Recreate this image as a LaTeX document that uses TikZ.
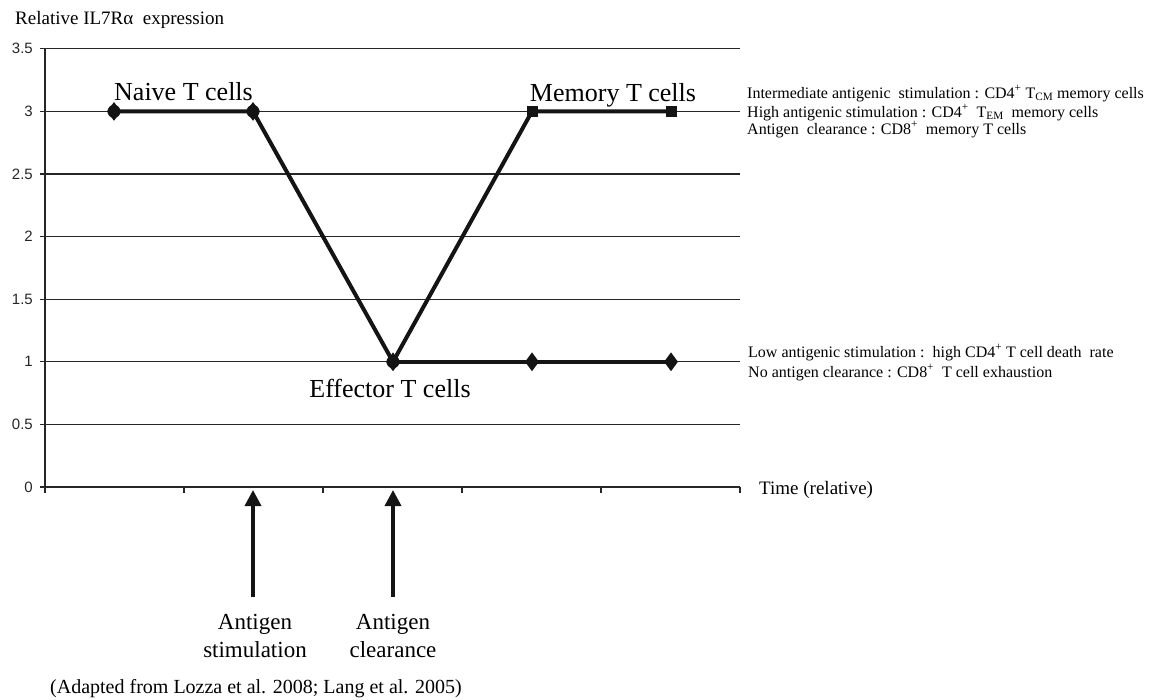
\documentclass[tikz,border=0pt]{standalone}
\usepackage{fontspec}
\setmainfont{Liberation Serif}
\newfontfamily\axisfont{Liberation Sans}
\usetikzlibrary{arrows.meta,shapes.geometric}
\begin{document}
\begin{tikzpicture}[x=1pt,y=-1pt,
 gridline/.style={line width=1.1pt, black!85},
 dataline/.style={line width=4pt, black!92, line join=round},
 ylab/.style={anchor=east, inner sep=0pt, font=\axisfont\fontsize{15}{15}\selectfont, text=black!85},
 bigtxt/.style={anchor=base, inner sep=0pt, font=\fontsize{26}{30}\selectfont},
 smalltxt/.style={anchor=base west, inner sep=0pt, font=\fontsize{16}{18}\selectfont},
 midtxt/.style={anchor=base west, inner sep=0pt, font=\fontsize{19}{22}\selectfont},
 arrowlab/.style={anchor=base, inner sep=0pt, font=\fontsize{23}{27}\selectfont},
 uparrow/.style={line width=3.5pt, black!92, -{Triangle[width=16pt,length=16pt]}},
 circmark/.style={circle, fill=black!92, minimum size=13pt, inner sep=0pt},
 diamark/.style={diamond, fill=black!92, minimum width=14pt, minimum height=19pt, inner sep=0pt},
 sqmark/.style={rectangle, fill=black!92, minimum size=11pt, inner sep=0pt}]
\useasboundingbox (0,0) rectangle (1153,699);
% grid
\foreach \y in {424.4,361.8,299.2,236.6,174,111.4,48.8}
  \draw[gridline] (45,\y) -- (740,\y);
\draw[gridline] (45,48.8) -- (45,487) -- (740,487);
\foreach \v/\y in {0/487,0.5/424.4,1/361.8,1.5/299.2,2/236.6,2.5/174,3/111.4,3.5/48.8}{
  \draw[gridline] (40,\y) -- (45,\y);
  \node[ylab] (yl\v) at (33,\y) {\v};
}
\foreach \x in {45,184,323,462,601,740}
  \draw[gridline] (\x,487) -- (\x,493);
% data points
\coordinate (n1) at (114,111.4);
\coordinate (n2) at (253,111.4);
\coordinate (e1) at (393,361.8);
\coordinate (d1) at (532,361.8);
\coordinate (d2) at (671,361.8);
\coordinate (m1) at (532,111.4);
\coordinate (m2) at (671,111.4);
\draw[dataline] (n1) -- (n2) -- (e1) -- (m1) -- (m2);
\draw[dataline] (e1) -- (d1) -- (d2);
\node[circmark] (cn1) at (n1) {};
\node[diamark] (dn1) at (n1) {};
\node[circmark] (cn2) at (n2) {};
\node[diamark] (dn2) at (n2) {};
\node[circmark] (ce1) at (e1) {};
\node[diamark] (de1) at (e1) {};
\node[diamark] (dd1) at (d1) {};
\node[diamark] (dd2) at (d2) {};
\node[sqmark] (sm1) at (m1) {};
\node[sqmark] (sm2) at (m2) {};
% labels
\node[anchor=base west, inner sep=0pt, font=\fontsize{19}{22}\selectfont] (ylabel) at (15,24) {Relative IL7Rα\ \ expression};
\node[bigtxt] (naive) at (183.5,100) {Naive T cells};
\node[bigtxt] (memory) at (613,101) {Memory T cells};
\node[bigtxt] (effector) at (390,397) {Effector T cells};
\node[midtxt] (time) at (759,494) {Time (relative)};
\node[smalltxt] (r1) at (747,98) {Intermediate antigenic\ \ stimulation : CD4\textsuperscript{+} T\textsubscript{CM} memory cells};
\node[smalltxt] (r2) at (747,117) {High antigenic stimulation : CD4\textsuperscript{+}\ \ T\textsubscript{EM}\ \ memory cells};
\node[smalltxt] (r3) at (747,134) {Antigen\ \ clearance : CD8\textsuperscript{+}\ \ memory T cells};
\node[smalltxt] (r4) at (748,357) {Low antigenic stimulation :\ \ high CD4\textsuperscript{+} T cell death\ \ rate};
\node[smalltxt] (r5) at (748,377) {No antigen clearance : CD8\textsuperscript{+}\ \ T cell exhaustion};
% arrows
\coordinate (s0) at (253,597);
\coordinate (s1) at (253,490);
\coordinate (c0) at (393,597);
\coordinate (c1) at (393,490);
\draw[uparrow] (s0) -- (s1);
\draw[uparrow] (c0) -- (c1);
\node[arrowlab] (stA) at (255,629) {Antigen};
\node[arrowlab] (stB) at (255,657) {stimulation};
\node[arrowlab] (clA) at (393,629) {Antigen};
\node[arrowlab] (clB) at (393,657) {clearance};
\node[anchor=base west, inner sep=0pt, font=\fontsize{20}{24}\selectfont] (src) at (50,693) {(Adapted from Lozza et al. 2008; Lang et al. 2005)};
\end{tikzpicture}
\end{document}
